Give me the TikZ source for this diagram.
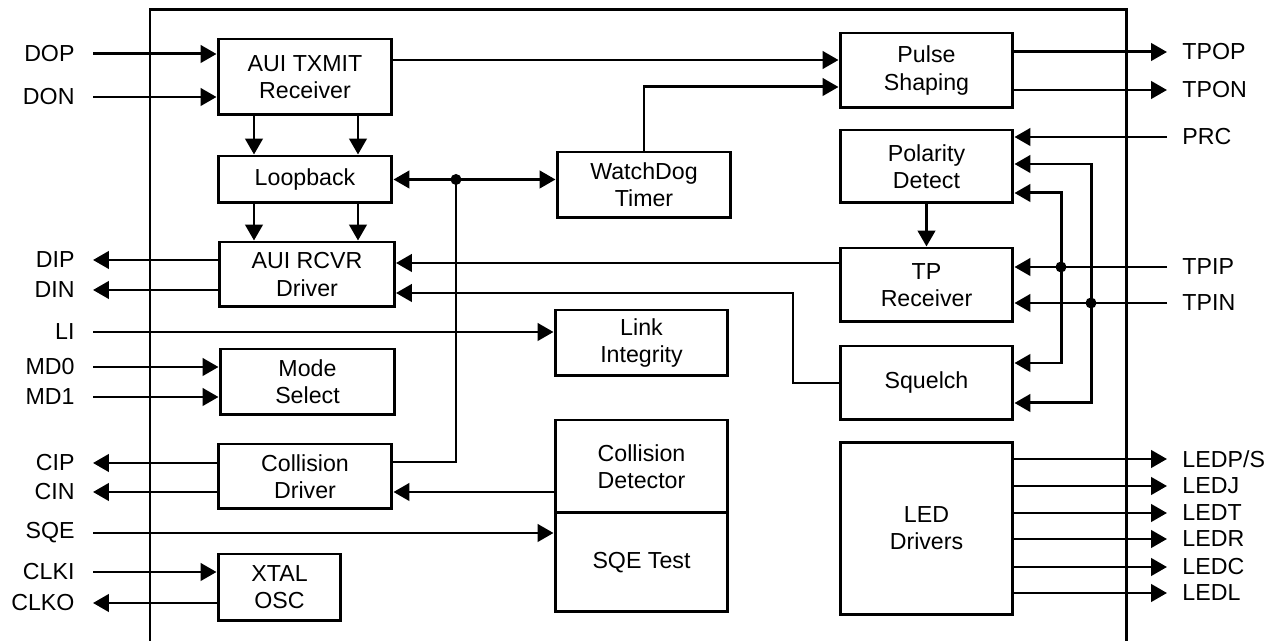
\documentclass[tikz,border=0pt]{standalone}
\usepackage{fontspec}
\setmainfont{Liberation Sans}
\usetikzlibrary{arrows.meta}

\begin{document}
\begin{tikzpicture}[
          x=0.02cm, y=-0.02cm,
          line width=1.7pt,
          font=\fontsize{13.2pt}{15.5pt}\selectfont,
          blk/.style 2 args={draw, align=center, inner sep=0pt, minimum width=#1, minimum height=#2},
          pinl/.style={anchor=east, inner xsep=0.34cm, inner ysep=0pt},
          pinr/.style={anchor=west, inner xsep=0.28cm, inner ysep=0pt},
          arr/.style={-{Triangle[length=0.32cm, width=0.35cm]}},
          darr/.style={{Triangle[length=0.32cm, width=0.35cm]}-{Triangle[length=0.32cm, width=0.35cm]}},
          dot/.style={circle, fill, inner sep=0pt, minimum size=0.22cm}
        ]
        \useasboundingbox (0,0) rectangle (1276,641);
        \draw (150,641) -- (150,10) -- (1126,10) -- (1126,641);

        \node[blk={3.48cm}{1.52cm}] (txmit) at (305,77) {AUI TXMIT\\Receiver};
        \node[blk={3.48cm}{0.94cm}] (loop) at (305,179.5) {Loopback};
        \node[blk={3.5cm}{1.3cm}] (rcvr) at (307,274.5) {AUI RCVR\\Driver};
        \node[blk={3.5cm}{1.32cm}] (mode) at (307.5,382) {Mode\\Select};
        \node[blk={3.48cm}{1.3cm}] (coll) at (305,476.5) {Collision\\Driver};
        \node[blk={2.46cm}{1.34cm}] (xtal) at (279.5,587.5) {XTAL\\OSC};
        \node[blk={3.48cm}{1.32cm}] (wdog) at (644,185) {WatchDog\\Timer};
        \node[blk={3.46cm}{1.32cm}] (link) at (641.5,343) {Link\\Integrity};
        \node[blk={3.46cm}{1.86cm}] (cdet) at (641.5,466.5) {Collision\\Detector};
        \node[blk={3.46cm}{1.98cm}] (sqet) at (641.5,562.5) {SQE Test};
        \node[blk={3.46cm}{1.5cm}] (pulse) at (926.5,70.5) {Pulse\\Shaping};
        \node[blk={3.46cm}{1.46cm}] (pol) at (926.5,166.5) {Polarity\\Detect};
        \node[blk={3.46cm}{1.48cm}] (tprx) at (926.5,285) {TP\\Receiver};
        \node[blk={3.46cm}{1.48cm}] (sq) at (926.5,383) {Squelch};
        \node[blk={3.46cm}{3.46cm}] (led) at (926.5,528.5) {LED\\Drivers};

        \foreach \n/\t/\y in {dop/DOP/54, don/DON/97, dip/DIP/260, din/DIN/290,
            li/LI/332, mdz/MD0/367, mdo/MD1/397, cip/CIP/463, cin/CIN/492,
            sqe/SQE/533, clki/CLKI/572, clko/CLKO/603}
          \node[pinl] (\n) at (93,\y) {\t};
        \foreach \n/\t/\y in {tpop/TPOP/52, tpon/TPON/90, prc/PRC/137, tpip/TPIP/267,
            tpin/TPIN/303, ledps/{LEDP/S}/459, ledj/LEDJ/486, ledt/LEDT/513,
            ledr/LEDR/539, ledc/LEDC/567, ledl/LEDL/593}
          \node[pinr] (\n) at (1167,\y) {\t};

        \coordinate (ca) at (254,0);
        \coordinate (cb) at (358,0);
        \coordinate (cc) at (1061,0);
        \coordinate (cd) at (1091,0);
        \coordinate (ce) at (793,293);
        \node[dot] (j1) at (456,179.5) {};
        \node[dot] (j2) at (tpip.west -| cc) {};
        \node[dot] (j3) at (tpin.west -| cd) {};

        \draw[arr] (dop.east) -- (dop.east -| txmit.west);
        \draw[arr] (don.east) -- (don.east -| txmit.west);
        \draw[arr] (txmit.south -| ca) -- (loop.north -| ca);
        \draw[arr] (txmit.south -| cb) -- (loop.north -| cb);
        \draw[arr] (loop.south -| ca) -- (rcvr.north -| ca);
        \draw[arr] (loop.south -| cb) -- (rcvr.north -| cb);
        \draw[arr] (dip.east -| rcvr.west) -- (dip.east);
        \draw[arr] (din.east -| rcvr.west) -- (din.east);
        \draw[darr] (loop.east) -- (wdog.west |- loop.east);
        \draw (j1.center) |- ([yshift=0.29cm]coll.east);
        \draw[arr] ([yshift=0.34cm]txmit.east) -- ([yshift=0.34cm]txmit.east -| pulse.west);
        \draw[arr] (wdog.north) |- ([yshift=-0.33cm]pulse.west);
        \draw[arr] (tpop.west -| pulse.east) -- (tpop.west);
        \draw[arr] (tpon.west -| pulse.east) -- (tpon.west);
        \draw[arr] (prc.west) -- (prc.west -| pol.east);
        \draw[arr] (tpip.west) -- (tpip.west -| tprx.east);
        \draw[arr] (tpin.west) -- (tpin.west -| tprx.east);
        \draw[arr] (j2.center) |- ([yshift=-0.53cm]pol.east);
        \draw[arr] (j2.center) |- ([yshift=0.4cm]sq.east);
        \draw[arr] (j3.center) |- ([yshift=0.05cm]pol.east);
        \draw[arr] (j3.center) |- ([yshift=-0.4cm]sq.east);
        \draw[arr] (pol.south) -- (tprx.north);
        \draw[arr] ([yshift=0.44cm]tprx.west) -- ([yshift=0.44cm]tprx.west -| rcvr.east);
        \draw[arr] (sq.west) -| (ce) -- (ce -| rcvr.east);
        \draw[arr] (li.east) -- (li.east -| link.west);
        \draw[arr] (mdz.east) -- (mdz.east -| mode.west);
        \draw[arr] (mdo.east) -- (mdo.east -| mode.west);
        \draw[arr] (cip.east -| coll.west) -- (cip.east);
        \draw[arr] (cin.east -| coll.west) -- (cin.east);
        \draw[arr] (cin.east -| cdet.west) -- (cin.east -| coll.east);
        \draw[arr] (sqe.east) -- (sqe.east -| sqet.west);
        \draw[arr] (clki.east) -- (clki.east -| xtal.west);
        \draw[arr] (clko.east -| xtal.west) -- (clko.east);
        \foreach \n in {ledps, ledj, ledt, ledr, ledc, ledl}
          \draw[arr] (\n.west -| led.east) -- (\n.west);
        \end{tikzpicture}
\end{document}
